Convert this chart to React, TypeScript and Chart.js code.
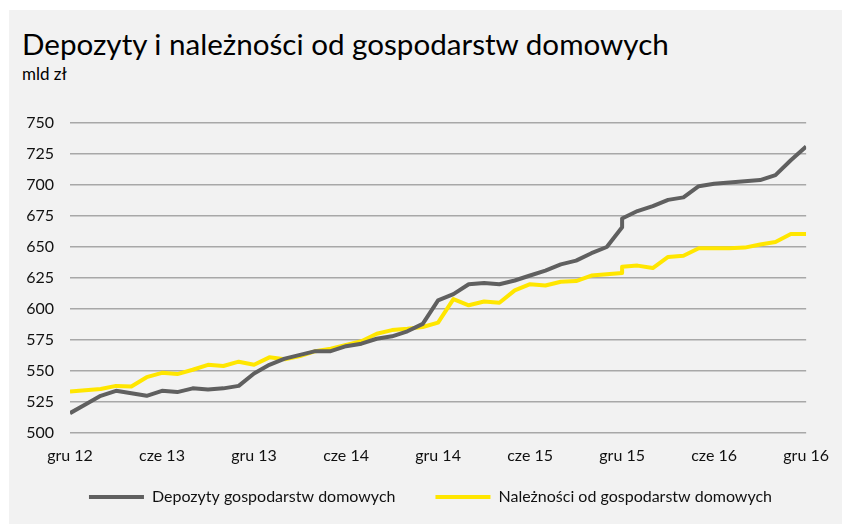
import React, { useEffect, useRef } from "react";
import { Chart, registerables } from "chart.js";

Chart.register(...registerables);

// month index from gru 12 (0) to gru 16 (48); gru 15 (36) appears twice (level break)
const monthIdx = [
  0, 1, 2, 3, 4, 5, 6, 7, 8, 9, 10, 11, 12, 13, 14, 15, 16, 17, 18, 19, 20, 21, 22, 23, 24,
  25, 26, 27, 28, 29, 30, 31, 32, 33, 34, 35, 36, 36, 37, 38, 39, 40, 41, 42, 43, 44, 45, 46, 47, 48,
];

const depozyty = [
  516, 523, 530, 534, 532, 530, 534, 533, 536, 535, 536, 538, 548, 555, 560, 563, 566, 566, 570, 572,
  576, 578, 582, 588, 607, 612, 620, 621, 620, 623, 627, 631, 636, 639, 645, 650, 666, 673, 679, 683,
  688, 690, 699, 701, 702, 703, 704, 708, 720, 731,
];

const naleznosci = [
  533.5, 534.5, 535.5, 538, 537.5, 545, 548.5, 547.5, 551, 555, 554, 557.5, 555, 561, 559.5, 562, 566,
  568, 571, 574, 580, 583, 584, 585.5, 589, 608, 603, 606, 605, 615, 620, 619, 622, 622.5, 627, 628,
  629, 634, 635, 633, 642, 643, 649, 649, 649, 649.5, 652, 654, 660.5, 660.5,
];

const tickLabels = ["gru 12", "cze 13", "gru 13", "cze 14", "gru 14", "cze 15", "gru 15", "cze 16", "gru 16"];
const seriesNames = ["Depozyty gospodarstw domowych", "Należności od gospodarstw domowych"];
const title = "Depozyty i należności od gospodarstw domowych";
const unit = "mld zł";

const FONT = "Lato";

// moves the legend block so that a wide item gap does not push it down
const legendShift = {
  id: "legendShift",
  afterLayout(chart: any) {
    const l = chart.legend;
    if (l) {
      l.top -= 17;
      l.bottom -= 17;
      l.left += 17;
      l.right += 17;
    }
  },
};

export default function App() {
  const ref = useRef<HTMLCanvasElement>(null);

  useEffect(() => {
    if (!ref.current) return;
    const chart = new Chart(ref.current, {
      type: "line",
      data: {
        datasets: [
          {
            label: seriesNames[0],
            data: monthIdx.map((x, i) => ({ x, y: depozyty[i] })),
            borderColor: "#606060",
            backgroundColor: "#606060",
            borderWidth: 4,
            pointRadius: 0,
            pointStyle: "line",
            tension: 0,
            borderJoinStyle: "round",
          },
          {
            label: seriesNames[1],
            data: monthIdx.map((x, i) => ({ x, y: naleznosci[i] })),
            borderColor: "#ffe600",
            backgroundColor: "#ffe600",
            borderWidth: 4,
            pointRadius: 0,
            pointStyle: "line",
            tension: 0,
            borderJoinStyle: "round",
          },
        ],
      },
      plugins: [legendShift],
      options: {
        animation: false,
        responsive: false,
        layout: { padding: { top: 113, left: 0, right: 24, bottom: -8 } },
        plugins: {
          legend: {
            position: "bottom",
            labels: {
              usePointStyle: true,
              pointStyleWidth: 55,
              padding: 40,
              color: "#111",
              font: { family: FONT, size: 16 },
            },
          },
          tooltip: { enabled: false },
        },
        scales: {
          x: {
            type: "linear",
            min: 0,
            max: 48,
            grid: { display: false, drawTicks: false },
            border: { display: false },
            ticks: {
              stepSize: 6,
              autoSkip: false,
              maxRotation: 0,
              padding: 13,
              color: "#111",
              font: { family: FONT, size: 16 },
              callback: (v: any) => tickLabels[Math.round(Number(v) / 6)] ?? "",
            },
            afterFit: (s: any) => {
              s.height = 33;
            },
          },
          y: {
            min: 500,
            max: 750,
            grid: { color: "#a8a8a8", lineWidth: 1.5, drawTicks: false },
            border: { display: false },
            ticks: {
              stepSize: 25,
              padding: 16,
              color: "#111",
              font: { family: FONT, size: 16 },
            },
            afterFit: (s: any) => {
              s.width = 61;
            },
          },
        },
      },
    });
    return () => chart.destroy();
  }, []);

  return (
    <div
      style={{
        position: "absolute",
        left: 9,
        top: 10,
        width: 833,
        height: 514,
        background: "#f2f2f2",
        overflow: "hidden",
      }}
    >
      <div
        style={{
          position: "absolute",
          left: 13,
          top: 17,
          fontFamily: FONT,
          fontSize: 29.6,
          lineHeight: "34px",
          color: "#000",
          whiteSpace: "nowrap",
        }}
      >
        {title}
      </div>
      <div
        style={{
          position: "absolute",
          left: 13,
          top: 54,
          fontFamily: FONT,
          fontSize: 17,
          lineHeight: "20px",
          color: "#000",
          whiteSpace: "nowrap",
        }}
      >
        {unit}
      </div>
      <canvas ref={ref} width={833} height={514} style={{ position: "absolute", left: 0, top: 0 }} />
    </div>
  );
}
